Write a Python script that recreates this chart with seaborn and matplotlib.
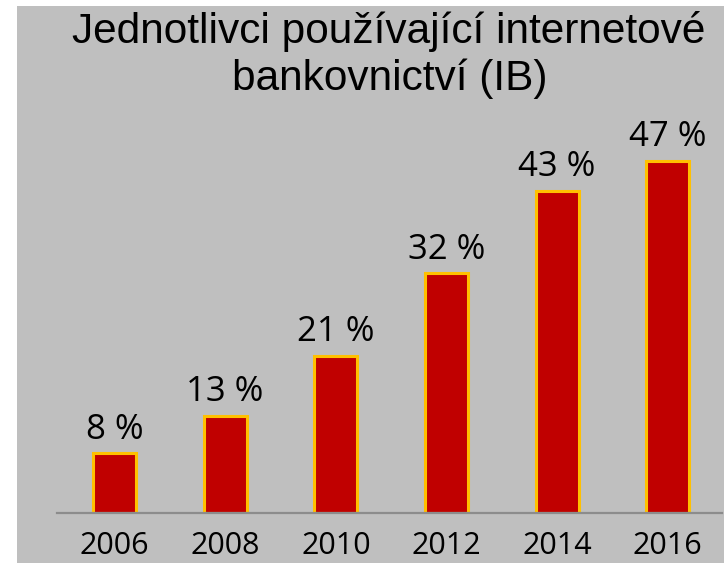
import pandas as pd
import seaborn as sns
import matplotlib.pyplot as plt
from matplotlib.patches import Rectangle

# Data
years = ["2006", "2008", "2010", "2012", "2014", "2016"]
shares = [8, 13, 21, 32, 43, 47]
title_lines = ["Jednotlivci používající internetové", "bankovnictví (IB)"]

df = pd.DataFrame({"year": years, "share": shares})

sns.set_style("white")
plt.rcParams["font.family"] = ["Open Sans", "DejaVu Sans"]

fig = plt.figure(figsize=(7.28, 5.63), dpi=100)
fig.patch.set_facecolor("white")
# grey panel behind the chart
fig.patches.append(Rectangle((17 / 728, 0), 707 / 728, 557 / 563,
                             transform=fig.transFigure, facecolor="#BFBFBF",
                             edgecolor="none", zorder=-5))

ax = fig.add_axes([57 / 728, 50 / 563, 665 / 728, 413 / 563])
ax.set_facecolor("none")
ax.set_zorder(1)

sns.barplot(data=df, x="year", y="share", color="#C00000", width=0.39,
            edgecolor="#FFC000", linewidth=2.2, saturation=1, ax=ax)

for i, v in enumerate(shares):
    ax.annotate(f"{v} %", (i, v), xytext=(0, 4.5), textcoords="offset points",
                ha="center", va="bottom", fontsize=25, color="black",
                annotation_clip=False)

ax.set_xlim(-0.52, 5.49)
ax.set_ylim(0, 55.07)
ax.set_xlabel("")
ax.set_ylabel("")
ax.set_yticks([])
ax.tick_params(axis="x", length=0, labelsize=22, pad=13, colors="black")
for s in ["top", "right", "left"]:
    ax.spines[s].set_visible(False)
ax.spines["bottom"].set_color("#8C8C8C")
ax.spines["bottom"].set_linewidth(1.6)

fig.text(389 / 728, 1 - 43 / 563, title_lines[0], ha="center", va="baseline",
         fontsize=30.5, color="black", family=["Liberation Sans", "DejaVu Sans"])
fig.text(390 / 728, 1 - 90 / 563, title_lines[1], ha="center", va="baseline",
         fontsize=30.5, color="black", family=["Liberation Sans", "DejaVu Sans"])

fig.savefig("out.png", dpi=100, facecolor=fig.get_facecolor())
